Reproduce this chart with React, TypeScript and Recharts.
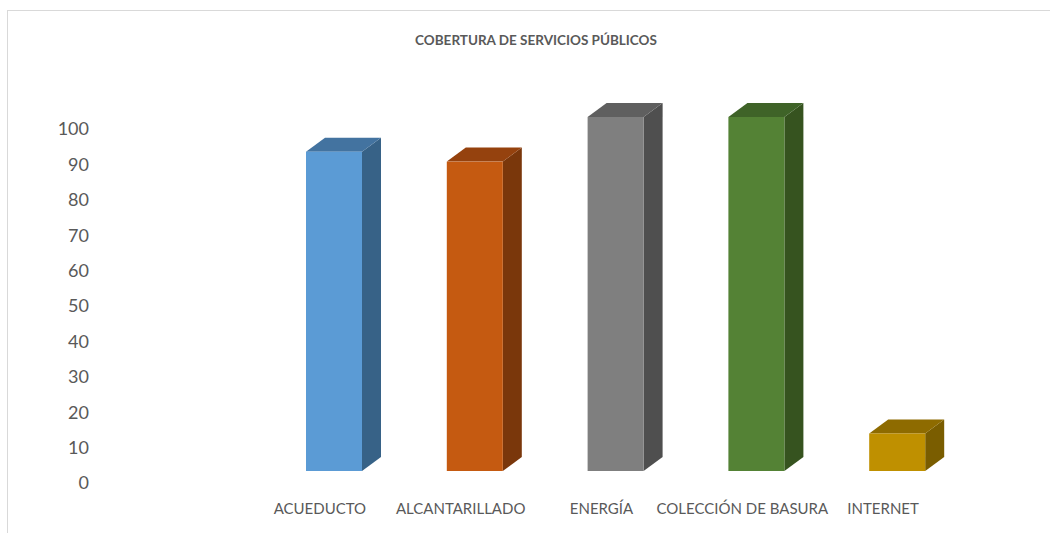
import { BarChart, Bar, XAxis, YAxis } from 'recharts';

const services = ['ACUEDUCTO', 'ALCANTARILLADO', 'ENERGÍA', 'COLECCIÓN DE BASURA', 'INTERNET'];
const coverage = [90.2, 87.4, 100, 100, 10.6];
const yTicks = [0, 10, 20, 30, 40, 50, 60, 70, 80, 90, 100];

const frontColors = ['#5b9bd5', '#c55a11', '#7f7f7f', '#548235', '#bf9000'];
const topColors = ['#4373a0', '#95420e', '#5f5f5f', '#3f6328', '#8e6b00'];
const sideColors = ['#376287', '#7a370b', '#4f4f4f', '#36531f', '#7a5d00'];

const data = services.map((name, i) => ({ name, value: coverage[i] }));

// excel-ish 3d column: front face lifted a bit, depth to the upper right
const LIFT = 12;
const DX = 19;
const DY = 14;

function Column3D(props: any) {
  const { x, y, width, height, index } = props;
  if (height == null || width == null) return null;
  const fx = x;
  const fy = y - LIFT;
  const fb = y + height - LIFT;
  const top = `${fx},${fy} ${fx + DX},${fy - DY} ${fx + width + DX},${fy - DY} ${fx + width},${fy}`;
  const side = `${fx + width},${fy} ${fx + width + DX},${fy - DY} ${fx + width + DX},${fb - DY} ${fx + width},${fb}`;
  return (
    <g>
      <polygon points={side} fill={sideColors[index]} />
      <polygon points={top} fill={topColors[index]} />
      <rect x={fx} y={fy} width={width} height={height} fill={frontColors[index]} />
    </g>
  );
}

function CategoryTick(props: any) {
  const { x, y, payload } = props;
  return (
    <text x={x - 14.5} y={y + 31} textAnchor="middle" fill="#595959" fontSize={15} fontFamily="Lato, 'Noto Sans', sans-serif">
      {payload.value}
    </text>
  );
}

export default function App() {
  return (
    <div style={{ position: 'fixed', left: 0, top: 0, width: 1050, height: 533, background: '#fff', overflow: 'hidden' }}>
      <div style={{ position: 'absolute', left: 7, top: 10, width: 1100, height: 600, borderLeft: '1px solid #d9d9d9', borderTop: '1px solid #d9d9d9' }} />
      <div
        style={{
          position: 'absolute',
          left: 0,
          width: 1072,
          top: 32,
          textAlign: 'center',
          fontFamily: "Lato, 'Noto Sans', sans-serif",
          fontWeight: 700,
          fontSize: 13.5,
          color: '#595959',
        }}
      >
        COBERTURA DE SERVICIOS PÚBLICOS
      </div>
      <div style={{ position: 'absolute', left: 0, top: 0 }}>
        <BarChart width={1050} height={533} data={data} margin={{ top: 129, right: 82, bottom: 0, left: 204 }}>
          <XAxis dataKey="name" axisLine={false} tickLine={false} tickSize={0} tickMargin={0} height={50} interval={0} tick={<CategoryTick />} />
          <YAxis
            domain={[0, 100]}
            ticks={yTicks}
            axisLine={false}
            tickLine={false}
            tickSize={0}
            tickMargin={175}
            width={60}
            interval={0}
            tick={{ fill: '#595959', fontSize: 18, fontFamily: "Lato, 'Noto Sans', sans-serif" }}
          />
          <Bar dataKey="value" barSize={56} shape={<Column3D />} isAnimationActive={false} />
        </BarChart>
      </div>
    </div>
  );
}
